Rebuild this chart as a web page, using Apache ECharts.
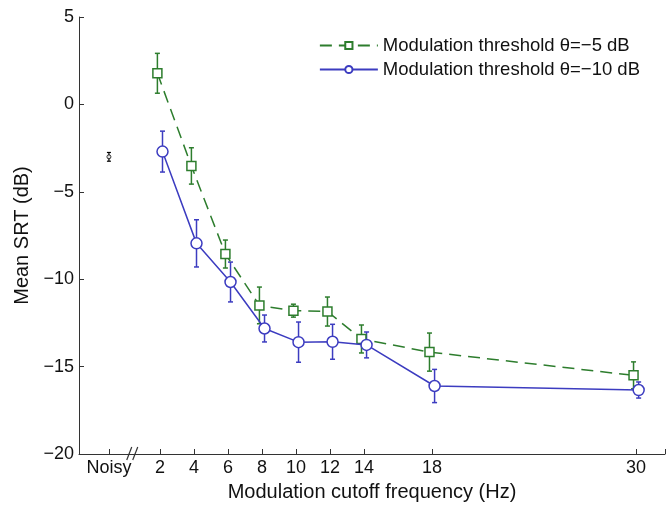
<!DOCTYPE html>
<html><head><meta charset="utf-8">
<script src="https://cdn.jsdelivr.net/npm/echarts@6/dist/echarts.min.js"></script>
<style>html,body{margin:0;padding:0;background:#fff}#c{width:667px;height:505px}</style>
</head><body><div id="c"></div>
<script>
// ---- data ----
const freqs = [2, 4, 6, 8, 10, 12, 14, 18, 30];
const xTickValues = [-1, 2, 4, 6, 8, 10, 12, 14, 18, 30];
const xTickLabels = ['Noisy', '2', '4', '6', '8', '10', '12', '14', '18', '30'];
const yTicks = [-20, -15, -10, -5, 0, 5];
const seriesNames = ['Modulation threshold \u03b8=\u22125 dB', 'Modulation threshold \u03b8=\u221210 dB'];
const meanA = [1.78, -3.52, -8.56, -11.5, -11.8, -11.85, -13.42, -14.17, -15.5];
const errA  = [1.14, 1.04, 0.8, 1.05, 0.37, 0.83, 0.8, 1.09, 0.77];
const meanB = [-2.7, -7.95, -10.16, -12.82, -13.6, -13.58, -13.76, -16.11, -16.34];
const errB  = [1.17, 1.35, 1.14, 0.77, 1.15, 1.0, 0.74, 0.95, 0.46];
const noisyX = [-1];
const noisyMean = [-3.0];
const noisyErr = [0.25];

// ---- styling ----
const FONT = "'Liberation Sans', Arial, sans-serif";
const GREEN = '#2d7d2d';
const BLUE = '#3c3cc0';
const OFFSET_A = -0.15, OFFSET_B = 0.15; // small horizontal dodge between groups
const X_MIN = -2.76, X_MAX = 31.7, BREAK_AT = 0.4;

const chart = echarts.init(document.getElementById('c'), null, {renderer: 'canvas'});

function errRender(capHalf, lw) {
  return function (params, api) {
    const x = api.value(0), lo = api.value(1), hi = api.value(2);
    const p1 = api.coord([x, hi]), p2 = api.coord([x, lo]);
    const st = {stroke: api.visual('color'), lineWidth: lw};
    return {type: 'group', children: [
      {type: 'line', shape: {x1: p1[0], y1: p1[1], x2: p2[0], y2: p2[1]}, style: st},
      {type: 'line', shape: {x1: p1[0] - capHalf, y1: p1[1], x2: p1[0] + capHalf, y2: p1[1]}, style: st},
      {type: 'line', shape: {x1: p2[0] - capHalf, y1: p2[1], x2: p2[0] + capHalf, y2: p2[1]}, style: st}
    ]};
  };
}
const pts = (xs, ms, off) => xs.map((f, i) => [f + off, ms[i]]);
const errs = (xs, ms, es, off) => xs.map((f, i) => [f + off, ms[i] - es[i], ms[i] + es[i]]);
const minus = s => String(s).replace('-', '\u2212');

chart.setOption({
  animation: false,
  textStyle: {fontFamily: FONT},
  grid: {left: 79, right: 2, top: 17, bottom: 51, containLabel: false, outerBoundsMode: 'none'},
  legend: {
    data: seriesNames,
    orient: 'vertical',
    right: 22, top: 31,
    itemWidth: 58, itemHeight: 9, itemGap: 5,
    textStyle: {fontSize: 18.5, color: '#111', fontFamily: FONT},
    selectedMode: false
  },
  xAxis: {
    type: 'value', min: X_MIN, max: X_MAX,
    name: 'Modulation cutoff frequency (Hz)', nameLocation: 'middle', nameGap: 28, nameMoveOverlap: false,
    nameTextStyle: {fontSize: 20, color: '#111', fontFamily: FONT},
    axisLine: {onZero: false, lineStyle: {color: '#333', width: 1}},
    axisTick: {inside: true, length: 5, customValues: xTickValues.concat([X_MAX]), lineStyle: {color: '#333'}},
    axisLabel: {customValues: xTickValues, fontSize: 18, color: '#111', margin: 5,
      formatter: v => xTickLabels[xTickValues.indexOf(v)] ?? ''},
    splitLine: {show: false}
  },
  yAxis: {
    type: 'value', min: -20, max: 5, interval: 5,
    name: 'Mean SRT (dB)', nameLocation: 'middle', nameGap: 47, nameRotate: 90, nameMoveOverlap: false,
    nameTextStyle: {fontSize: 20, color: '#111', fontFamily: FONT},
    axisLine: {show: true, onZero: false, lineStyle: {color: '#333', width: 1}},
    axisTick: {show: true, inside: true, length: 5, lineStyle: {color: '#333'}},
    axisLabel: {fontSize: 18, color: '#111', margin: 5, formatter: v => minus(v)},
    splitLine: {show: false}
  },
  series: [
    {type: 'custom', renderItem: errRender(2.5, 1.5), data: errs(freqs, meanA, errA, OFFSET_A),
      itemStyle: {color: GREEN}, encode: {x: 0, y: [1, 2]}, z: 1, silent: true},
    {type: 'custom', renderItem: errRender(2.5, 1.5), data: errs(freqs, meanB, errB, OFFSET_B),
      itemStyle: {color: BLUE}, encode: {x: 0, y: [1, 2]}, z: 1, silent: true},
    {type: 'custom', renderItem: errRender(2, 1.2), data: errs(noisyX, noisyMean, noisyErr, 0),
      itemStyle: {color: '#000'}, encode: {x: 0, y: [1, 2]}, z: 1, silent: true},
    {type: 'scatter', data: pts(noisyX, noisyMean, 0), symbol: 'circle', symbolSize: 4,
      itemStyle: {color: '#fff', borderColor: '#000', borderWidth: 1}, z: 3},
    {name: seriesNames[0], type: 'line', data: pts(freqs, meanA, OFFSET_A),
      symbol: 'rect', symbolSize: 9, showSymbol: true,
      lineStyle: {color: GREEN, width: 1.5, type: [12, 7]},
      itemStyle: {color: '#fff', borderColor: GREEN, borderWidth: 1.5}, z: 3},
    {name: seriesNames[1], type: 'line', data: pts(freqs, meanB, OFFSET_B),
      symbol: 'circle', symbolSize: 11, showSymbol: true,
      lineStyle: {color: BLUE, width: 1.5},
      itemStyle: {color: '#fff', borderColor: BLUE, borderWidth: 1.5}, z: 4}
  ]
});

// axis-break glyph "//" on the x axis between Noisy and 2
const bp = chart.convertToPixel({gridIndex: 0}, [BREAK_AT, -20]);
chart.setOption({graphic: [
  {type: 'line', shape: {x1: bp[0] - 6, y1: bp[1] + 6, x2: bp[0] - 1, y2: bp[1] - 7}, style: {stroke: '#333', lineWidth: 1.2}},
  {type: 'line', shape: {x1: bp[0] + 0, y1: bp[1] + 6, x2: bp[0] + 5, y2: bp[1] - 7}, style: {stroke: '#333', lineWidth: 1.2}}
]});
</script></body></html>
